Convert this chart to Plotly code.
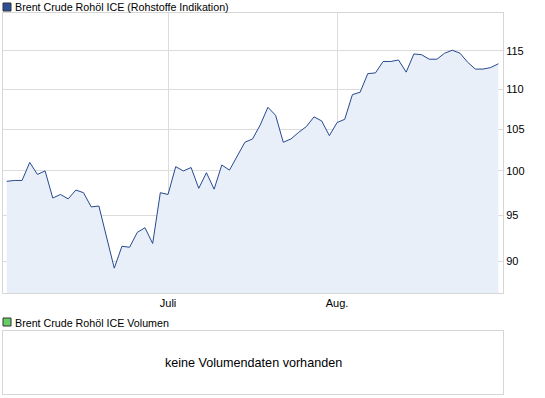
import plotly.graph_objects as go
import pandas as pd

# Trading days (June 1 2012 .. end of August 2012), indexed positions
dates = pd.bdate_range("2012-06-01", periods=65)
price = [98.8, 98.9, 98.9, 101.0, 99.6, 100.0, 96.9, 97.3, 96.8, 97.8,
         97.5, 95.9, 96.0, 92.5, 89.3, 91.6, 91.5, 93.1, 93.6, 91.9,
         97.5, 97.3, 100.5, 100.0, 100.4, 98.0, 99.8, 97.9, 100.7, 100.1,
         101.7, 103.4, 103.8, 105.5, 107.7, 106.7, 103.4, 103.8, 104.6, 105.3,
         106.5, 106.0, 104.2, 105.8, 106.2, 109.3, 109.6, 112.0, 112.1, 113.6,
         113.6, 113.8, 112.2, 114.6, 114.5, 113.9, 113.9, 114.7, 115.1, 114.7,
         113.5, 112.6, 112.6, 112.8, 113.3]
x_tick_pos = [21, 43]
x_tick_text = ["Juli", "Aug."]
y_ticks = [90, 95, 100, 105, 110, 115]
title_main = "Brent Crude Rohöl ICE (Rohstoffe Indikation)"
title_vol = "Brent Crude Rohöl ICE Volumen"
no_data_text = "keine Volumendaten vorhanden"

idx = list(range(len(price)))
FONT = "Liberation Sans"
GRID = "#dcdcdc"
BORDER = "#d6d6d6"

fig = go.Figure()
fig.add_trace(go.Scatter(
    x=idx, y=price, mode="lines",
    line=dict(color="#27498f", width=1),
    fill="tozeroy", fillcolor="#e9eff9",
    customdata=[d.strftime("%d.%m.%Y") for d in dates],
    hovertemplate="%{customdata}: %{y}<extra></extra>",
    xaxis="x", yaxis="y", showlegend=False))
# empty volume panel
fig.add_trace(go.Scatter(x=[], y=[], xaxis="x2", yaxis="y2", showlegend=False))

H_TOP = 13
H_BOT = 394
ph = H_BOT - H_TOP
def py(y):
    return (H_BOT - y) / ph

fig.update_layout(
    width=545, height=398,
    margin=dict(l=3, r=42, t=H_TOP, b=398 - H_BOT, pad=0),
    paper_bgcolor="white", plot_bgcolor="white",
    font=dict(family=FONT, size=11, color="#000000"),
    xaxis=dict(domain=[0, 1], range=[-0.48, 64.6], tickmode="array",
               tickvals=x_tick_pos, ticktext=x_tick_text,
               showgrid=True, gridcolor=GRID, gridwidth=1,
               showline=True, mirror=True, linecolor=BORDER, linewidth=1,
               ticks="", zeroline=False, anchor="y", fixedrange=True),
    yaxis=dict(domain=[py(293), 1], type="log",
               range=[1.93827, 2.07990], side="right",
               tickmode="array", tickvals=y_ticks,
               ticktext=[str(v) for v in y_ticks],
               showgrid=True, gridcolor=GRID, gridwidth=1,
               showline=True, mirror=True, linecolor=BORDER, linewidth=1,
               ticks="", zeroline=False, anchor="x"),
    xaxis2=dict(domain=[0, 1], range=[0, 1], showgrid=False, showticklabels=False,
                showline=True, mirror=True, linecolor=BORDER, linewidth=1,
                ticks="", zeroline=False, anchor="y2"),
    yaxis2=dict(domain=[0, py(331)], range=[0, 1], showgrid=False,
                showticklabels=False, showline=True, mirror=True,
                linecolor=BORDER, linewidth=1, ticks="", zeroline=False,
                anchor="x2"),
    showlegend=False,
)

def legend_square(y_top, color):
    fig.add_shape(type="rect", xref="paper", yref="paper",
                  x0=0, x1=8 / 500, y0=py(y_top + 8), y1=py(y_top),
                  fillcolor=color, line=dict(color="#333333", width=1))

legend_square(3, "#2b4f96")
legend_square(318, "#66cc66")

fig.add_annotation(text=title_main, xref="paper", yref="paper",
                   x=10 / 500, y=py(7.5), xanchor="left", yanchor="middle",
                   showarrow=False, font=dict(size=10.7, family=FONT))
fig.add_annotation(text=title_vol, xref="paper", yref="paper",
                   x=10 / 500, y=py(322.5), xanchor="left", yanchor="middle",
                   showarrow=False, font=dict(size=10.7, family=FONT))
fig.add_annotation(text=no_data_text, xref="x2", yref="y2",
                   x=0.5, y=0.5, xanchor="center", yanchor="middle",
                   showarrow=False, font=dict(size=12.6, family=FONT))

fig.write_html("out.html", config={"displayModeBar": False},
               post_script="document.body.style.margin='0';document.body.style.overflow='hidden';")
